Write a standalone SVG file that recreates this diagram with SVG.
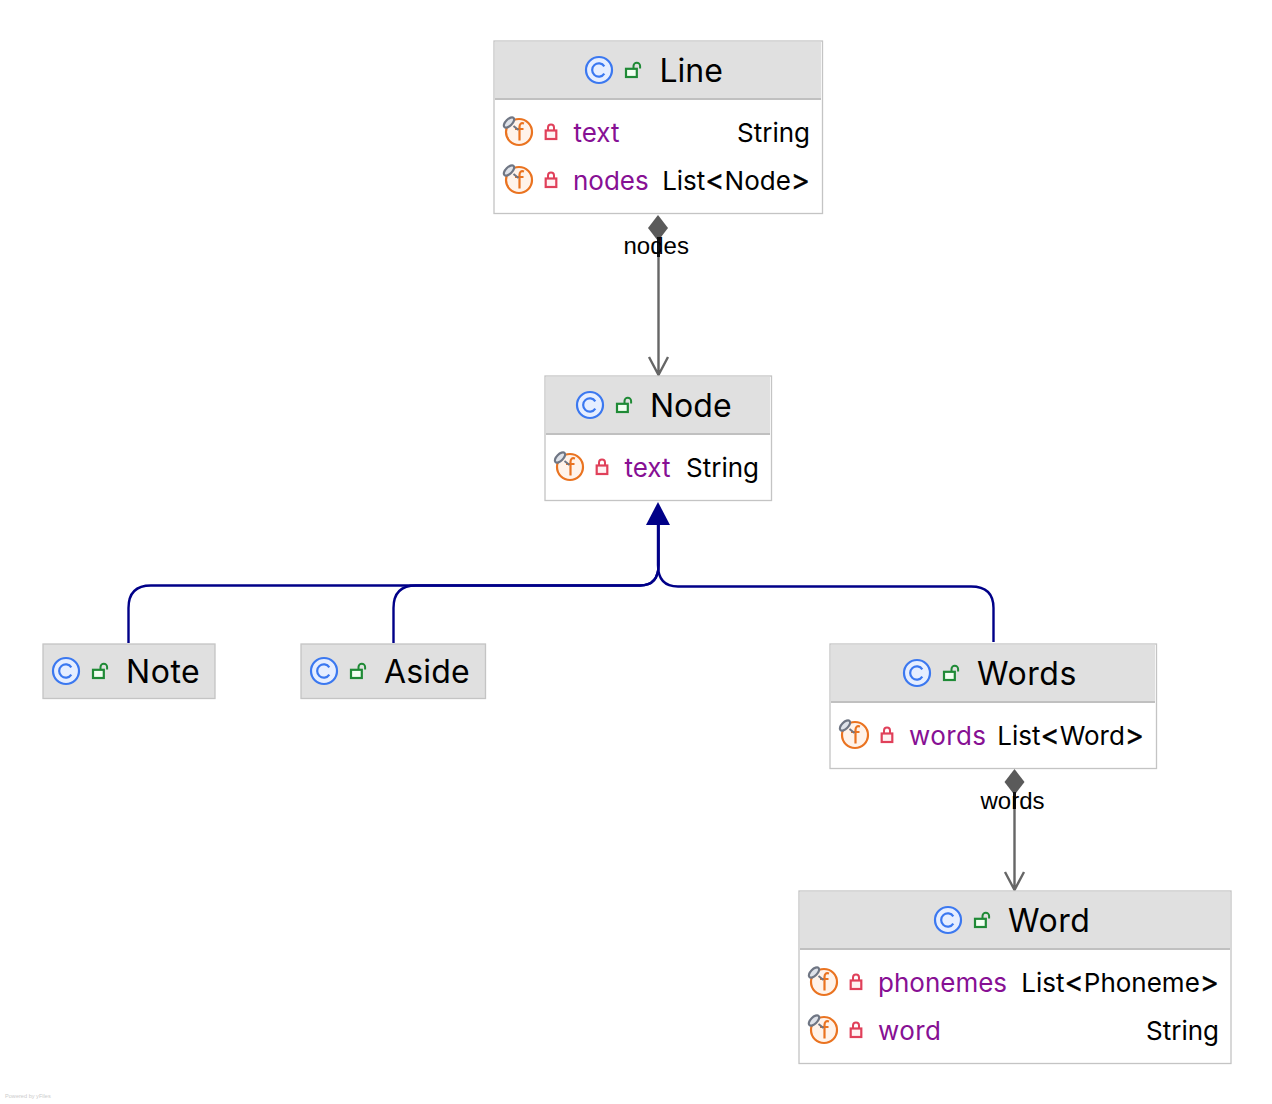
<svg xmlns="http://www.w3.org/2000/svg" width="1272" height="1104" viewBox="0 0 1272 1104">
<style>
text{font-family:Inter,"Liberation Sans",sans-serif;fill:#000}
.box{fill:#fff;stroke:#c4c4c4;stroke-width:1.3}
.hd{fill:#e0e0e0}
.sep{stroke:#c0c0c0;stroke-width:2}
.title{font-size:32px}
.wide{letter-spacing:.55px}
.m{font-size:26px}
.mw{letter-spacing:.4px}
.f{fill:#871094}
.br{font-size:29px;stroke:#000;stroke-width:.4}
.lbl{font-family:"Liberation Sans",Arial,sans-serif;font-size:24px}
.end{text-anchor:end}
.dep{fill:none;stroke:#666;stroke-width:2.4}
.inh{fill:none;stroke:#000088;stroke-width:2.4}
.tiny{font-family:"Liberation Sans",sans-serif;font-size:5.6px;fill:#ccc}
</style>
<defs>
<g id="ci"><circle cx="0" cy="0" r="13" fill="#e6eeff" stroke="#3b78f0" stroke-width="2.2"/><path d="M5.3-3.6A6.6 6.6 0 1 0 5.3 3.6" fill="none" stroke="#3b78f0" stroke-width="2.2"/></g>
<g id="pub"><rect x="-7" y="-1.200" width="10.800" height="8.200" fill="#f2fff2" stroke="#1f8a36" stroke-width="2.200"/><path d="M.5-1.200V-4A3.300 3.300 0 0 1 7.100-4V-1.500" fill="none" stroke="#1f8a36" stroke-width="2"/></g>
<g id="fi"><circle cx="0" cy="0" r="13" fill="#fff3ea" stroke="#ea7320" stroke-width="2.200"/><path d="M5-8.500C2-9.500 .5-8 .5-5V8.500M-4-3H4.500" fill="none" stroke="#ea7320" stroke-width="2.200"/><path d="M-5.500-6L-.5-2" stroke="#6f7684" stroke-width="2"/><ellipse cx="-10" cy="-9.500" rx="6.500" ry="3.300" transform="rotate(-45 -10 -9.500)" fill="#dfe3ea" stroke="#6f7684" stroke-width="2.200"/></g>
<g id="pri"><rect x="-5.300" y="-1.500" width="10.600" height="8.500" fill="#fff2f3" stroke="#e0405a" stroke-width="2.200"/><path d="M-3-1.500V-4.500A3 3 0 0 1 3-4.500V-1.500" fill="none" stroke="#e0405a" stroke-width="2"/></g>
</defs>

<g id="connectors">
<path class="dep" d="M658.500 236V375M649 357L658.500 375L668 357"/>
<path d="M658 215L668 228L658 241L648 228Z" fill="#5a5a5a"/>
<path d="M658.500 237V257" stroke="#111" stroke-width="3"/>
<text class="lbl" x="623.500" y="254">nodes</text>
<path class="dep" d="M1014.500 791V890M1005 872L1014.500 890L1024 872"/>
<path d="M1014.500 769L1024.500 782L1014.500 795L1004.500 782Z" fill="#5a5a5a"/>
<path d="M1014.500 792V809" stroke="#111" stroke-width="3"/>
<text class="lbl" x="980.500" y="809">words</text>
<path class="inh" d="M128.500 643V608Q128.500 585.500 151 585.500H640Q658.500 585.500 658.500 565V525"/>
<path class="inh" d="M393.500 643V608Q393.500 585.500 416 585.500H640Q658.500 585.500 658.500 565V525"/>
<path class="inh" d="M993.500 642V608Q993.500 586.500 971 586.500H678Q658 586.500 658 565V525"/>
<path d="M658 502L670 525H646Z" fill="#000088"/>
</g>

<g id="line">
<rect class="box" x="494" y="41" width="328.500" height="172.500"/>
<rect class="hd" x="495" y="42" width="326" height="56"/>
<path class="sep" d="M495 99H821"/>
<use href="#ci" x="599" y="70"/><use href="#pub" x="633" y="70"/>
<text class="title" x="659.500" y="82">Line</text>
<use href="#fi" x="519" y="132"/><use href="#pri" x="551" y="132"/>
<text class="m f" x="573.500" y="142">text</text><text class="m end" x="810" y="142">String</text>
<use href="#fi" x="519" y="180"/><use href="#pri" x="551" y="180"/>
<text class="m f" x="573" y="190">nodes</text><text class="m end" x="810" y="190">List<tspan class="br">&lt;</tspan>Node<tspan class="br">&gt;</tspan></text>
</g>

<g id="node">
<rect class="box" x="545" y="376" width="226.500" height="124.500"/>
<rect class="hd" x="546" y="377" width="224" height="56"/>
<path class="sep" d="M546 434H770"/>
<use href="#ci" x="590" y="405"/><use href="#pub" x="624" y="405"/>
<text class="title" x="650" y="417">Node</text>
<use href="#fi" x="570" y="467"/><use href="#pri" x="602" y="467"/>
<text class="m f" x="624.500" y="477">text</text><text class="m end" x="759" y="477">String</text>
</g>

<g id="note">
<rect class="box hd" x="43" y="644" width="172" height="54.500"/>
<use href="#ci" x="66" y="671"/><use href="#pub" x="100" y="671"/>
<text class="title wide" x="126" y="683">Note</text>
</g>

<g id="aside">
<rect class="box hd" x="301" y="644" width="184.500" height="54.500"/>
<use href="#ci" x="324" y="671"/><use href="#pub" x="358" y="671"/>
<text class="title" x="384" y="683" style="letter-spacing:.2px">Aside</text>
</g>

<g id="words">
<rect class="box" x="830" y="644" width="326.500" height="124.500"/>
<rect class="hd" x="831" y="645" width="324" height="56"/>
<path class="sep" d="M831 702H1155"/>
<use href="#ci" x="917" y="673"/><use href="#pub" x="951" y="673"/>
<text class="title wide" x="977" y="685">Words</text>
<use href="#fi" x="855" y="735"/><use href="#pri" x="887" y="735"/>
<text class="m f mw" x="909" y="745">words</text><text class="m end" x="1144" y="745">List<tspan class="br">&lt;</tspan>Word<tspan class="br">&gt;</tspan></text>
</g>

<g id="word">
<rect class="box" x="799" y="891" width="432" height="172.500"/>
<rect class="hd" x="800" y="892" width="430" height="56"/>
<path class="sep" d="M800 949H1230"/>
<use href="#ci" x="948" y="920"/><use href="#pub" x="982" y="920"/>
<text class="title wide" x="1008" y="932">Word</text>
<use href="#fi" x="824" y="982"/><use href="#pri" x="856" y="982"/>
<text class="m f" x="878" y="992">phonemes</text><text class="m end" x="1219" y="992">List<tspan class="br">&lt;</tspan>Phoneme<tspan class="br">&gt;</tspan></text>
<use href="#fi" x="824" y="1030"/><use href="#pri" x="856" y="1030"/>
<text class="m f mw" x="878" y="1040">word</text><text class="m end" x="1219" y="1040">String</text>
</g>
<text class="tiny" x="5" y="1098">Powered by yFiles</text>
</svg>
